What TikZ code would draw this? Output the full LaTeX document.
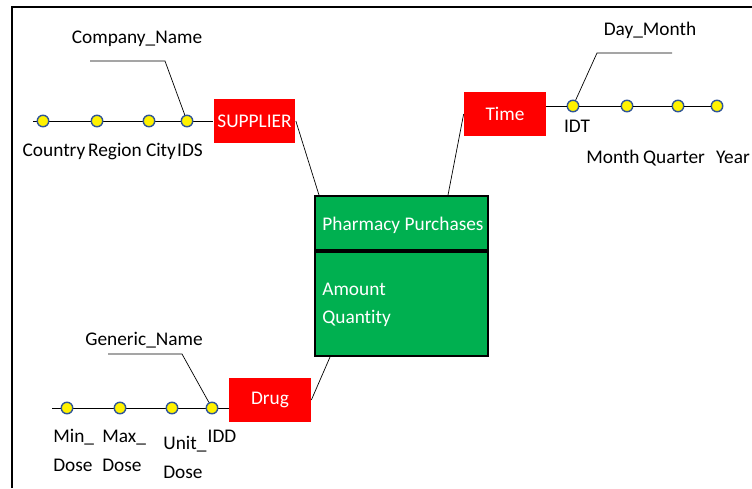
\documentclass[tikz,border=0pt]{standalone}
\usepackage{fontspec}
\setmainfont{Carlito}[Ligatures=NoCommon]
\usetikzlibrary{calc}
\definecolor{rougedim}{RGB}{255,0,0}
\definecolor{vertfait}{RGB}{0,176,80}
\definecolor{bleupt}{RGB}{47,85,151}
\begin{document}
\begin{tikzpicture}[x=0.02cm,y=-0.02cm]
\tikzset{tinoeud/.style={draw=bleupt, fill=yellow, circle, line width=0.8pt, minimum size=0.23cm, inner sep=0pt}}
\tikzset{dimbox/.style={fill=rougedim, text=white, minimum width=1.64cm, minimum height=0.88cm, inner sep=0pt, font=\fontsize{11}{14}\selectfont}}
\tikzset{faitbox/.style={draw, fill=vertfait, line width=1.2pt, minimum width=3.46cm, inner sep=0pt}}
\tikzset{etiq/.style={inner sep=0pt, anchor=base, font=\fontsize{11}{16}\selectfont}}
\useasboundingbox (0,0) rectangle (752,488);
\draw[line width=0.9pt] (12,488) -- (12,7) -- (752,7);
% fait
\node[faitbox, minimum height=1.08cm] (F1) at (401.5,223) {};
\node[faitbox, minimum height=2.08cm, anchor=north] (F2) at (F1.south) {};
\node[etiq, text=white] (FT) at (403,230) {Pharmacy Purchases};
\node[etiq, text=white, anchor=base west, align=left, font=\fontsize{11}{15.5}\selectfont] (FM) at (322,323) {Amount\\Quantity};
% dimensions
\node[dimbox] (S) at (254.5,121) {SUPPLIER};
\node[dimbox] (T) at (505,114) {Time};
\node[dimbox] (D) at (270,400) {Drug};
\draw (S.east) -- ($(F1.north west)+(5,0)$);
\draw (T.west) -- ($(F1.north east)+(-41,0)$);
\draw (D.east) -- ($(F2.south west)+(16,0)$);
% supplier
\coordinate (S0) at (33,121);
\draw (S0) -- (S.west);
\node[tinoeud] (S1) at (43,121) {};
\node[tinoeud] (S2) at (97,121) {};
\node[tinoeud] (S3) at (149,121) {};
\node[tinoeud] (S4) at (187,121) {};
\node[etiq] (LS1) at (54,156) {Country};
\node[etiq] (LS2) at (115,156) {Region};
\node[etiq] (LS3) at (161,156) {City};
\node[etiq] (LS4) at (190,156) {IDS};
\node[etiq] (LS5) at (137,43) {Company\_Name};
\coordinate (SA) at (90,61);
\coordinate (SB) at (165,61);
\draw (SA) -- (SB) -- (S4);
% time
\node[tinoeud] (T1) at (573,106) {};
\node[tinoeud] (T2) at (627,106) {};
\node[tinoeud] (T3) at (678,106) {};
\node[tinoeud] (T4) at (717,106) {};
\draw (T.east |- T1) -- (T1) -- (T2) -- (T3) -- (T4);
\node[etiq] (LT1) at (577,132) {IDT};
\node[etiq] (LT2) at (613,163) {Month};
\node[etiq] (LT3) at (674,163) {Quarter};
\node[etiq] (LT4) at (733,163) {Year};
\node[etiq] (LT5) at (650,35) {Day\_Month};
\coordinate (TA) at (597,53);
\coordinate (TB) at (672,53);
\draw (TB) -- (TA) -- (T1);
% drug
\coordinate (D0) at (52,408);
\draw (D0) -- (D.west |- D0);
\node[tinoeud] (D1) at (67,408) {};
\node[tinoeud] (D2) at (120,408) {};
\node[tinoeud] (D3) at (172,408) {};
\node[tinoeud] (D4) at (212,408) {};
\node[etiq, anchor=base west, align=left] (LD1) at (53,471) {Min\_\\Dose};
\node[etiq, anchor=base west, align=left] (LD2) at (102,471) {Max\_\\Dose};
\node[etiq, anchor=base west, align=left] (LD3) at (163,478) {Unit\_\\Dose};
\node[etiq] (LD4) at (222,442) {IDD};
\node[etiq] (LD5) at (144,345) {Generic\_Name};
\coordinate (DA) at (108,354);
\coordinate (DB) at (182,354);
\draw (DA) -- (DB) -- (D4);
\end{tikzpicture}
\end{document}
